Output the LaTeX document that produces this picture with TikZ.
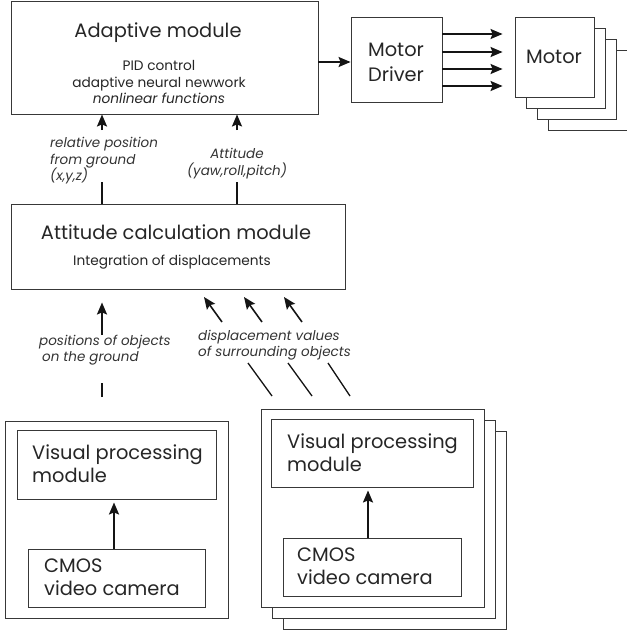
\documentclass[tikz,border=0pt]{standalone}
\usepackage{fontspec}
\setmainfont{Poppins}
\usetikzlibrary{arrows.meta,fit}

\tikzset{
  box/.style={draw=black!78, line width=0.9pt, fill=white, inner sep=0pt},
  arr/.style={draw=black!92, line width=1.8pt, -{Stealth[length=12pt,width=10pt,inset=2pt]}},
  seg/.style={draw=black!92, line width=1.8pt},
  diag/.style={draw=black!92, line width=1.3pt},
  darr/.style={diag, line width=1.6pt, -{Stealth[length=12pt,width=10pt,inset=2pt]}},
  bigtxt/.style={font=\fontsize{19.4}{23}\selectfont, text=black!85, inner sep=0pt},
  smalltxt/.style={font=\fontsize{13.7}{16.5}\selectfont, text=black!85, inner sep=0pt},
  labeltxt/.style={font=\fontsize{13.5}{16.5}\selectfont\itshape, text=black!80, inner sep=0pt, align=left},
}

\begin{document}
\begin{tikzpicture}[x=1pt,y=-1pt]
\useasboundingbox (0,0) rectangle (626,634);

% ---------- corner points of the boxes ----------
\path (11,1.5) coordinate (adNW) (318,114) coordinate (adSE)
      (351,17) coordinate (drNW) (442,102) coordinate (drSE)
      (515,17) coordinate (moNW) (594,97) coordinate (moSE)
      (11,204) coordinate (atNW) (345,289) coordinate (atSE)
      (5,421) coordinate (loNW) (228,618) coordinate (loSE)
      (17,430) coordinate (vaNW) (216,499) coordinate (vaSE)
      (28,549) coordinate (caNW) (205,607) coordinate (caSE)
      (261,409) coordinate (roNW) (484,607) coordinate (roSE)
      (271,419) coordinate (vbNW) (473,487) coordinate (vbSE)
      (283,538) coordinate (cbNW) (461,596) coordinate (cbSE);

% ---------- adaptive module ----------
\node[box, fit=(adNW)(adSE)] (adapt) {};
\node[bigtxt] (adaptT) at (158,33) {Adaptive module};
\node[smalltxt, align=center] (adaptS) at (159,82)
  {PID control\\adaptive neural newwork\\\itshape nonlinear functions};

% ---------- motor driver ----------
\node[box, fit=(drNW)(drSE)] (driver) {};
\node[bigtxt, align=center, font=\fontsize{19.4}{25}\selectfont] (driverT) at (396,62) {Motor\\Driver};

% ---------- stacked motors ----------
\foreach \k in {3,2,1} {
  \node[box, fit=(moNW)(moSE), xshift=11*\k pt, yshift=-11*\k pt] (motor\k) {};
}
\node[box, fit=(moNW)(moSE)] (motor) {};
\node[bigtxt] (motorT) at (554,57) {Motor};

% ---------- attitude calculation module ----------
\node[box, fit=(atNW)(atSE)] (att) {};
\node[bigtxt] (attT) at (176,232) {Attitude calculation module};
\node[smalltxt] (attS) at (172,262) {Integration of displacements};

% ---------- left camera unit ----------
\node[box, fit=(loNW)(loSE)] (louter) {};
\node[box, fit=(vaNW)(vaSE)] (vpa) {};
\node[box, fit=(caNW)(caSE)] (cama) {};
\node[bigtxt, align=left, anchor=west] (vpaT) at (32,464) {Visual processing\\module};
\node[bigtxt, align=left, anchor=west] (camaT) at (44,577) {CMOS\\video camera};

% ---------- right camera units (stacked) ----------
\foreach \k in {2,1} {
  \node[box, fit=(roNW)(roSE), xshift=11*\k pt, yshift=-11*\k pt] (router\k) {};
}
\node[box, fit=(roNW)(roSE)] (router) {};
\node[box, fit=(vbNW)(vbSE)] (vpb) {};
\node[box, fit=(cbNW)(cbSE)] (camb) {};
\node[bigtxt, align=left, anchor=west] (vpbT) at (287,453) {Visual processing\\module};
\node[bigtxt, align=left, anchor=west] (cambT) at (297,566) {CMOS\\video camera};

% ---------- connector labels ----------
\node[labeltxt, anchor=west] (lblRel) at (50,161) {relative position\\from ground\\(x,y,z)};
\node[labeltxt, align=center] (lblAtt) at (237,163.5) {Attitude\\(yaw,roll,pitch)};
\node[labeltxt, anchor=west] (lblPos) at (39,350) {positions of objects\\\hspace*{3pt}on the ground};
\node[labeltxt, anchor=west] (lblDis) at (198,345) {displacement values\\of surrounding objects};

% ---------- break points of the interrupted connectors ----------
\path (102,182) coordinate (relLo) (102,130) coordinate (relHi)
      (237,182) coordinate (attLo) (237,130) coordinate (attHi)
      (102,397) coordinate (posLo) (102,383) coordinate (posMid) (102,335) coordinate (posHi)
      (204,297) coordinate (d1tip) (222,322) coordinate (d1tail)
      (244,297) coordinate (d2tip) (262,322) coordinate (d2tail)
      (284,297) coordinate (d3tip) (302,322) coordinate (d3tail)
      (248,363) coordinate (e1a) (272,396) coordinate (e1b)
      (288,363) coordinate (e2a) (312,396) coordinate (e2b)
      (328,363) coordinate (e3a) (350,396) coordinate (e3b);

% ---------- connectors ----------
\draw[arr] (adapt.east |- 0,62) -- (driver.west |- 0,62);
\foreach \y in {34,52,69,86}
  \draw[arr] (driver.east |- 0,\y) -- ([xshift=-12pt]motor.west |- 0,\y);

\draw[seg] (att.north -| relLo) -- (relLo);
\draw[arr] (relHi) -- (adapt.south -| relHi);
\draw[seg] (att.north -| attLo) -- (attLo);
\draw[arr] (attHi) -- (adapt.south -| attHi);

\draw[seg] (posLo) -- (posMid);
\draw[arr] (posHi) -- ([yshift=-13pt]att.south -| posHi);

\draw[darr] (d1tail) -- (d1tip);
\draw[darr] (d2tail) -- (d2tip);
\draw[darr] (d3tail) -- (d3tip);
\draw[diag] (e1a) -- (e1b);
\draw[diag] (e2a) -- (e2b);
\draw[diag] (e3a) -- (e3b);

\draw[arr] (cama.north -| 114,0) -- ([yshift=-3pt]vpa.south -| 114,0);
\draw[arr] (camb.north -| 368,0) -- ([yshift=-3pt]vpb.south -| 368,0);
\end{tikzpicture}
\end{document}
